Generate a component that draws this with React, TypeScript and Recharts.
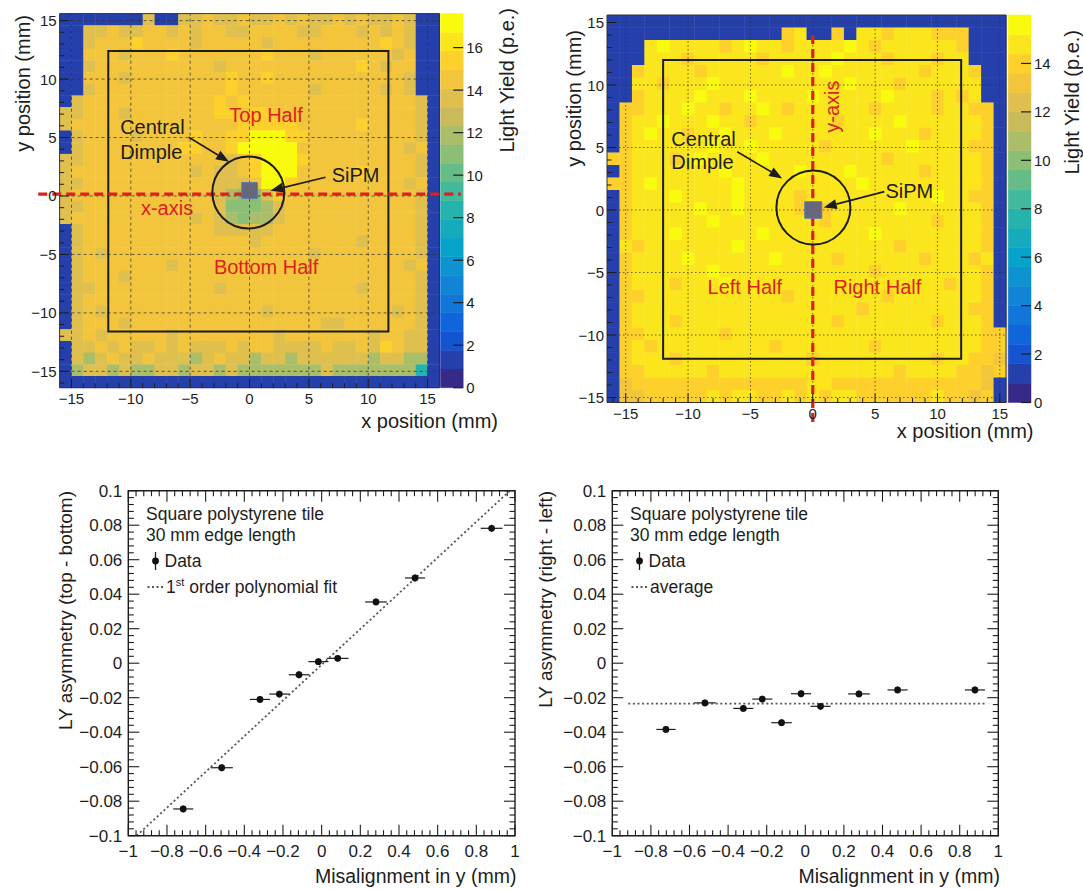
import React from 'react';
import {
  ScatterChart,
  Scatter,
  XAxis,
  YAxis,
  ReferenceArea,
  ReferenceLine,
  ReferenceDot,
  ErrorBar,
  Legend,
} from 'recharts';

const FONT = '"Liberation Sans", Arial, Helvetica, sans-serif';
const INK = '#1d1d1d';
const RED = '#dc1f1f';

// overlays sit above the heatmap cells
const Z_GRID = 610;
const Z_FRAME = 620;
const Z_MARK = 640;
const Z_SIPM = 650;
const Z_RING = 660;
const Z_ARROW = 670;
const Z_TEXT = 680;

// ROOT kBird palette, shown as 20 contour bands
const BIRD_R = [0.2082, 0.0592, 0.078, 0.0232, 0.1802, 0.5301, 0.8186, 0.9956, 0.9764];
const BIRD_G = [0.1664, 0.3599, 0.5041, 0.6419, 0.7178, 0.7492, 0.7328, 0.7862, 0.9832];
const BIRD_B = [0.5293, 0.8684, 0.8385, 0.7914, 0.6425, 0.4662, 0.3499, 0.1968, 0.0539];
const N_BANDS = 20;

function bird(t: number) {
  const s = Math.min(Math.max(t, 0), 1) * 8;
  const i = Math.min(Math.floor(s), 7);
  const f = s - i;
  const mix = (a: number[]) => Math.round(255 * (a[i] + (a[i + 1] - a[i]) * f));
  return `rgb(${mix(BIRD_R)},${mix(BIRD_G)},${mix(BIRD_B)})`;
}
const bandColor = (band: number) => bird(band / (N_BANDS - 1));
const zColor = (v: number, zMax: number) =>
  bandColor(Math.min(N_BANDS - 1, Math.floor(v / (zMax / N_BANDS))));

// ---- light yield maps, 1 mm cells, top row first ----
// left map: x from -16 mm, rows start at y = 15.6 mm
const LEFT_CODES: Record<string, number> = { '.': 1.2, c: 8.5, g: 10.8, h: 12.2, t: 13.6, o: 14.5, l: 15.5, Y: 17.2 };
const LEFT_ROWS = [
  '.... ...t ..tt otto ttot otto tott ot..',
  '..tt otto otot oott oooo ttoo otot ot..',
  '..to oolo ooot oooo otoo oooo oool ot..',
  '..oo otoo oloo oooo oloo otoo oooo to..',
  '..to oooo oooo otoo oooo oooo olot oo..',
  '..oo otoo oooo oolo oloo oooo oooo ot..',
  '..to oooo oooo oolo oooo otoo ooot ot..',
  '.too oooo oooo olol oooo oooo oooo oot.',
  'ttoo otoo oooo ollo lloo oooo oooo oot.',
  'tooo oooo oooo oool llll oooo oloo oot.',
  '.too ooto oool ooll YYYl looo oooo oot.',
  '.too oooo ooll oolY YYYY oooo oooo oto.',
  'ttoo oooo oooo ooto lYYY looo oooo oot.',
  'tooo oooo ooot otto lYYY oooo oloo oot.',
  'ttoo oooo oooo ottt oYYl oooo oooo oto.',
  'tooo oooo oooo othg gtlo oooo oooo oot.',
  'ttoo oooo oooo otgg ghto oooo oooo oot.',
  'tooo oooo ooot othg hhto oooo oooo oot.',
  '.too oooo oooo ottt ttoo oooo oooo oot.',
  '.too oooo oooo oooo tooo oooo otoo oot.',
  '.tot oooo oooo oooo oooo otoo oooo oot.',
  '.too oooo otoo oooo oooo oooo oooo oto.',
  '.too otoo oooo oooo oooo oooo oooo oot.',
  '.tto oooo oooo otoo oooo oooo otoo oot.',
  '.too oooo oooo oooo oooo oooo oooo oot.',
  '.tot oooo oooo oooo otoo oooo oooo tot.',
  '.too otoo oooo oooo oooo oott oooo oot.',
  'ttot oooo otoo oooo ooto oooo ooto ott.',
  '.tto tott otot ttot oott ttot totl ott.',
  '.tht otto ttth tott htth tttt ttht thh.',
  '.htt hthh ttht thth hhhh hhth hhhh hhc.',
  '.... .... .... .... .... .... .... ....',
];

// right map: x from -16.5 mm, rows start at y = 15.6 mm
const RIGHT_CODES: Record<string, number> = { '.': 1.2, h: 12.3, t: 13.0, o: 13.8, y: 14.6, Y: 15.5 };
const RIGHT_ROWS = [
  '.... .... .... .... .... .... .... ....',
  '.... .... .... ..oy ..o. yyoy yyoo o...',
  '...y Yyyy yoyY yyoy yyyY yoyy yyyy o...',
  '...y yyoy yyyy oyyy yyYy yyoy yyoy y...',
  '..oy yyyo yyyy yyYy yYyy yyyy yoyy yo..',
  '..yy oyyy Yyyy yyyy yyyY yyyo yyyy yy..',
  '..oy yyyY yyyY yyyy Yyyy yyYy yyoy oy..',
  '.ooy yyYy yoyy Yyoy yyyy yoyy yyoy yoo.',
  '.oyy Yyyy Yyyo yyyy yyoy yyyY yyyy yyo.',
  '.oyY yyoy yYyy yYyy yyyy yYyy yoyy yyo.',
  '.oyy yyyy YyyY yyyy yoyy yyyy Yyyy yoo.',
  'ooyy yoyY yyyy Yyyy yyyy yyoy yyyy yyo.',
  '.oyy yyyy yYyy yyyY yyyY yyyy yoyy yyo.',
  'ooyY yyyy yyYy yyyy yyyy Yyyy yyyy yyo.',
  '.oyy yYyy yyYy yyyo yyyy yyyy yyYy yoo.',
  '.oyy yyyY yyYy yyyo yoyy yyyY yyyy yyo.',
  '.oyy yyyy Yyyy yyyy yoyy yyyy yyoy yyo.',
  '.oyy yYyy yyyy Yyyy yyyy yYyy yyyy yyo.',
  '.yoy yyyy yyYy yyyy yyyy yyyo yyyy yyo.',
  '.oyy yyYy yyyy yYyy yyoy yyyy yoyy yoy.',
  '.oyy yyyy Yyyy yyyy yyyy yoyy yyyy yyo.',
  '.oyy yoyy yYyy yyyy yyyy yyyy yyyo yyo.',
  '.ooy yyyy yyyy yyoy yyyy yyoy yyyy yyo.',
  '.oyy yyyy yyyy yyyy yyyy oyyy yyyy yoo.',
  '.oyy yoyy yyyy yyyy yyoy yyyy yyoy yyo.',
  '.ooy yyyy yoyy yyyy yyyy yyyy yyyy yyoo',
  '.oyo yyyy yyyy yoyy yyyy yoyy yyyy yyoo',
  '.oyy yoyy yyyy yyyy oyyy yyyy yyoy yoot',
  '.ooy yyyy oyyy yyyy yyyy yyyo yyyy ooto',
  '.too oooo oooo oooo yyoo oooo oooo oot.',
  '.tto oooo yoyy ooyo yoyy oooo ooyo oto.',
];

// ---- asymmetry vs misalignment ----
const MISALIGN_TB = [-0.716, -0.517, -0.319, -0.219, -0.117, -0.017, 0.083, 0.281, 0.483, 0.879];
const ASYM_TB = [-0.0845, -0.0606, -0.021, -0.0179, -0.0067, 0.0009, 0.0028, 0.0355, 0.0494, 0.0782];
const MISALIGN_ERR_TB = [0.052, 0.058, 0.052, 0.052, 0.053, 0.052, 0.056, 0.056, 0.052, 0.056];
const ASYM_ERR_TB = [0.002, 0.002, 0.002, 0.002, 0.002, 0.002, 0.002, 0.002, 0.002, 0.002];
const FIT_TB_X = [-0.957, 0.974];
const FIT_TB_Y = [-0.1, 0.1];

const MISALIGN_RL = [-0.722, -0.52, -0.321, -0.223, -0.123, -0.022, 0.079, 0.278, 0.478, 0.879];
const ASYM_RL = [-0.0384, -0.023, -0.0262, -0.0208, -0.0345, -0.0177, -0.025, -0.0178, -0.0155, -0.0155];
const MISALIGN_ERR_RL = [0.05, 0.056, 0.052, 0.052, 0.053, 0.052, 0.052, 0.056, 0.052, 0.052];
const ASYM_ERR_RL = [0.002, 0.002, 0.002, 0.002, 0.002, 0.002, 0.002, 0.002, 0.002, 0.002];
const AVG_RL_X = [-0.917, 0.931];
const AVG_RL = -0.0234;

const MAP_MAJOR = [-15, -10, -5, 0, 5, 10, 15];
const ASYM_X_MAJOR = [-1, -0.8, -0.6, -0.4, -0.2, 0, 0.2, 0.4, 0.6, 0.8, 1];
const ASYM_Y_MAJOR = [-0.1, -0.08, -0.06, -0.04, -0.02, 0, 0.02, 0.04, 0.06, 0.08, 0.1];

const fmtSigned = (v: number) => (v < 0 ? `\u2212${Math.abs(v)}` : `${v}`);
const intRange = (a: number, b: number) => Array.from({ length: b - a + 1 }, (_, i) => a + i);
const minorRange = (step: number, n: number) =>
  Array.from({ length: 2 * n + 1 }, (_, i) => Math.round((i - n) * step * 10000) / 10000);

function toCells(rows: string[], codes: Record<string, number>, x0: number, y0: number) {
  const cells: { x: number; y: number; v: number }[] = [];
  rows.forEach((row, r) => {
    row
      .replace(/\s/g, '')
      .split('')
      .forEach((ch, c) => {
        cells.push({ x: x0 + c + 0.5, y: y0 - r - 0.5, v: codes[ch] ?? 0 });
      });
  });
  return cells;
}

// ---- shared drawing helpers ----
const arrowShape = (p: any) => {
  const { x1, y1, x2, y2 } = p;
  const a = Math.atan2(y2 - y1, x2 - x1);
  const L = 13;
  const W = 5;
  const bx = x2 - L * Math.cos(a);
  const by = y2 - L * Math.sin(a);
  const nx = -Math.sin(a) * W;
  const ny = Math.cos(a) * W;
  return (
    <g>
      <line x1={x1} y1={y1} x2={bx} y2={by} stroke={INK} strokeWidth={1.6} />
      <polygon points={`${x2},${y2} ${bx + nx},${by + ny} ${bx - nx},${by - ny}`} fill={INK} />
    </g>
  );
};

const textShape =
  (label: string, color: string, anchor: 'start' | 'middle' = 'middle', angle = 0) =>
  (p: any) => (
    <text
      x={p.cx}
      y={p.cy}
      dy="0.36em"
      textAnchor={anchor}
      fontSize={20}
      fill={color}
      transform={angle ? `rotate(${angle} ${p.cx} ${p.cy})` : undefined}
    >
      {label}
    </text>
  );

const heatXTick = (p: any) => {
  const v = p.payload.value;
  const major = v % 5 === 0;
  return (
    <g>
      <line x1={p.x} x2={p.x} y1={p.y} y2={p.y - (major ? 9 : 4.5)} stroke={INK} />
      {major && (
        <text x={p.x} y={p.y + 16} textAnchor="middle" fontSize={15} fill={INK}>
          {fmtSigned(v)}
        </text>
      )}
    </g>
  );
};

const heatYTick = (p: any) => {
  const v = p.payload.value;
  const major = v % 5 === 0;
  return (
    <g>
      <line x1={p.x} x2={p.x + (major ? 9 : 4.5)} y1={p.y} y2={p.y} stroke={INK} />
      {major && (
        <text x={p.x - 3} y={p.y} dy={5.5} textAnchor="end" fontSize={15} fill={INK}>
          {fmtSigned(v)}
        </text>
      )}
    </g>
  );
};

const zTick = (p: any) => (
  <g>
    <line x1={p.x - 10} x2={p.x} y1={p.y} y2={p.y} stroke={INK} strokeWidth={1.2} />
    <text x={p.x + 3} y={p.y} dy={5.5} textAnchor="start" fontSize={15} fill={INK}>
      {p.payload.value}
    </text>
  </g>
);

type Title = { x: number; y: number; text: string };
const hTitle = (t: Title, size: number) => () => (
  <text x={t.x} y={t.y} textAnchor="end" fontSize={size} fill={INK}>
    {t.text}
  </text>
);
const vTitle = (t: Title, size: number) => () => (
  <text x={t.x} y={t.y} textAnchor="end" fontSize={size} fill={INK} transform={`rotate(-90 ${t.x} ${t.y})`}>
    {t.text}
  </text>
);

type HeatProps = {
  rows: string[];
  codes: Record<string, number>;
  width: number;
  height: number;
  plotLeft: number;
  plotTop: number;
  plotRight: number;
  plotBottom: number;
  xDomain: [number, number];
  yDomain: [number, number];
  frameX: [number, number];
  barX: [number, number];
  zMax: number;
  zTicks: number[];
  xTicks: number[];
  yTicks: number[];
  gridDash: string;
  xTitle: Title;
  yTitle: Title;
  zTitle: Title;
  children?: React.ReactNode;
};

function HeatPanel(props: HeatProps) {
  const { width, height, plotLeft, plotTop, plotRight, plotBottom, xDomain, yDomain, frameX, barX, zMax } = props;
  const cw = (plotRight - plotLeft) / (xDomain[1] - xDomain[0]);
  const ch = (plotBottom - plotTop) / (yDomain[1] - yDomain[0]);
  const cells = toCells(props.rows, props.codes, frameX[0], yDomain[1]);
  const dz = zMax / N_BANDS;
  const cell = (p: any) => (
    <rect x={p.cx - cw / 2} y={p.cy - ch / 2} width={cw + 0.4} height={ch + 0.4} fill={zColor(p.payload.v, zMax)} />
  );
  return (
    <ScatterChart width={width} height={height} margin={{ top: plotTop, right: 0, bottom: 0, left: 0 }}>
      <XAxis
        type="number"
        dataKey="x"
        domain={xDomain}
        ticks={props.xTicks}
        interval={0}
        height={height - plotBottom}
        axisLine={false}
        tickLine={false}
        tickSize={0}
        tickMargin={0}
        tick={heatXTick}
        label={hTitle(props.xTitle, 20)}
      />
      <YAxis
        yAxisId="y"
        type="number"
        dataKey="y"
        domain={yDomain}
        ticks={props.yTicks}
        interval={0}
        width={plotLeft}
        axisLine={false}
        tickLine={false}
        tickSize={0}
        tickMargin={0}
        tick={heatYTick}
        label={vTitle(props.yTitle, 20)}
      />
      <YAxis
        yAxisId="z"
        orientation="right"
        type="number"
        domain={[0, zMax]}
        allowDataOverflow
        ticks={props.zTicks}
        interval={0}
        width={width - plotRight}
        axisLine={false}
        tickLine={false}
        tickSize={0}
        tickMargin={0}
        tick={zTick}
        label={vTitle(props.zTitle, 20)}
      />
      <Scatter yAxisId="y" data={cells} shape={cell} isAnimationActive={false} />
      {Array.from({ length: N_BANDS }, (_, i) => (
        <ReferenceArea
          key={`band-${i}`}
          yAxisId="z"
          x1={barX[0]}
          x2={barX[1]}
          y1={i * dz}
          y2={(i + 1) * dz}
          fill={bandColor(i)}
          fillOpacity={1}
          stroke={bandColor(i)}
          strokeWidth={0.5}
        />
      ))}
      {MAP_MAJOR.map((v) => (
        <ReferenceLine
          key={`gx${v}`}
          yAxisId="y"
          zIndex={Z_GRID}
          segment={[
            { x: v, y: yDomain[0] },
            { x: v, y: yDomain[1] },
          ]}
          stroke="#333"
          strokeOpacity={0.75}
          strokeDasharray={props.gridDash}
        />
      ))}
      {MAP_MAJOR.map((v) => (
        <ReferenceLine
          key={`gy${v}`}
          yAxisId="y"
          zIndex={Z_GRID}
          segment={[
            { x: frameX[0], y: v },
            { x: frameX[1], y: v },
          ]}
          stroke="#333"
          strokeOpacity={0.75}
          strokeDasharray={props.gridDash}
        />
      ))}
      <ReferenceArea
        yAxisId="y"
        zIndex={Z_FRAME}
        x1={frameX[0]}
        x2={frameX[1]}
        y1={yDomain[0]}
        y2={yDomain[1]}
        fill="none"
        stroke="#333"
      />
      {props.children}
    </ScatterChart>
  );
}

function TopBottomMap() {
  return (
    <HeatPanel
      rows={LEFT_ROWS}
      codes={LEFT_CODES}
      width={540}
      height={450}
      plotLeft={59.6}
      plotTop={13.6}
      plotRight={463.2}
      plotBottom={387.7}
      xDomain={[-16, 18]}
      yDomain={[-16.4, 15.6]}
      frameX={[-16, 16]}
      barX={[16.08, 18]}
      zMax={17.6}
      zTicks={[0, 2, 4, 6, 8, 10, 12, 14, 16]}
      xTicks={intRange(-15, 15)}
      yTicks={intRange(-16, 15)}
      gridDash="3 3"
      xTitle={{ x: 498, y: 428, text: 'x position (mm)' }}
      yTitle={{ x: 30, y: 15, text: 'y position (mm)' }}
      zTitle={{ x: 514, y: 8, text: 'Light Yield (p.e.)' }}
    >
      <ReferenceArea
        yAxisId="y"
        zIndex={Z_FRAME}
        x1={-11.9}
        x2={11.7}
        y1={-11.6}
        y2={12.4}
        fill="none"
        stroke={INK}
        strokeWidth={2}
      />
      <ReferenceLine
        yAxisId="y"
        zIndex={Z_MARK}
        segment={[
          { x: -17.8, y: 0.15 },
          { x: 17.8, y: 0.15 },
        ]}
        ifOverflow="visible"
        stroke={RED}
        strokeWidth={3.2}
        strokeDasharray="9 5"
      />
      <ReferenceArea
        yAxisId="y"
        zIndex={Z_SIPM}
        x1={-0.65}
        x2={0.66}
        y1={-0.2}
        y2={1.14}
        fill="#66677a"
        fillOpacity={1}
        stroke="#5a76b0"
      />
      <ReferenceDot yAxisId="y" zIndex={Z_RING} x={-0.1} y={0.3} r={36} fill="none" stroke={INK} strokeWidth={2} />
      <ReferenceLine
        yAxisId="y"
        zIndex={Z_ARROW}
        segment={[
          { x: -5.12, y: 5.02 },
          { x: -1.73, y: 2.93 },
        ]}
        shape={arrowShape}
      />
      <ReferenceLine
        yAxisId="y"
        zIndex={Z_ARROW}
        segment={[
          { x: 6.4, y: 1.6 },
          { x: 1.76, y: 0.45 },
        ]}
        shape={arrowShape}
      />
      <ReferenceDot yAxisId="y" zIndex={Z_TEXT} x={1.39} y={6.93} r={0} shape={textShape('Top Half', RED)} />
      <ReferenceDot yAxisId="y" zIndex={Z_TEXT} x={1.4} y={-6.05} r={0} shape={textShape('Bottom Half', RED)} />
      <ReferenceDot yAxisId="y" zIndex={Z_TEXT} x={-6.95} y={-1.05} r={0} shape={textShape('x-axis', RED)} />
      <ReferenceDot yAxisId="y" zIndex={Z_TEXT} x={-10.9} y={5.93} r={0} shape={textShape('Central', INK, 'start')} />
      <ReferenceDot yAxisId="y" zIndex={Z_TEXT} x={-10.9} y={3.79} r={0} shape={textShape('Dimple', INK, 'start')} />
      <ReferenceDot yAxisId="y" zIndex={Z_TEXT} x={8.94} y={1.8} r={0} shape={textShape('SiPM', INK)} />
    </HeatPanel>
  );
}

function LeftRightMap() {
  return (
    <HeatPanel
      rows={RIGHT_ROWS}
      codes={RIGHT_CODES}
      width={543}
      height={450}
      plotLeft={67}
      plotTop={15}
      plotRight={491}
      plotBottom={402.5}
      xDomain={[-16.5, 17.5]}
      yDomain={[-15.4, 15.6]}
      frameX={[-16.5, 15.5]}
      barX={[15.67, 17.5]}
      zMax={16}
      zTicks={[0, 2, 4, 6, 8, 10, 12, 14]}
      xTicks={intRange(-16, 15)}
      yTicks={intRange(-15, 15)}
      gridDash="1.5 2.5"
      xTitle={{ x: 493.5, y: 438, text: 'x position (mm)' }}
      yTitle={{ x: 41, y: 30, text: 'y position (mm)' }}
      zTitle={{ x: 539, y: 30, text: 'Light Yield (p.e.)' }}
    >
      <ReferenceArea
        yAxisId="y"
        zIndex={Z_FRAME}
        x1={-12}
        x2={11.9}
        y1={-11.9}
        y2={12}
        fill="none"
        stroke={INK}
        strokeWidth={2}
      />
      <ReferenceLine
        yAxisId="y"
        zIndex={Z_MARK}
        segment={[
          { x: 0, y: 14.0 },
          { x: 0, y: -17.3 },
        ]}
        ifOverflow="visible"
        stroke={RED}
        strokeWidth={3.2}
        strokeDasharray="9 5"
      />
      <ReferenceArea
        yAxisId="y"
        zIndex={Z_SIPM}
        x1={-0.64}
        x2={0.72}
        y1={-0.66}
        y2={0.66}
        fill="#66677a"
        fillOpacity={1}
        stroke="#5a76b0"
      />
      <ReferenceDot yAxisId="y" zIndex={Z_RING} x={0.05} y={0.2} r={37} fill="none" stroke={INK} strokeWidth={2} />
      <ReferenceLine
        yAxisId="y"
        zIndex={Z_ARROW}
        segment={[
          { x: -6.06, y: 4.66 },
          { x: -2.45, y: 2.53 },
        ]}
        shape={arrowShape}
      />
      <ReferenceLine
        yAxisId="y"
        zIndex={Z_ARROW}
        segment={[
          { x: 5.74, y: 1.47 },
          { x: 0.88, y: 0.21 },
        ]}
        shape={arrowShape}
      />
      <ReferenceDot yAxisId="y" zIndex={Z_TEXT} x={1.49} y={8.27} r={0} shape={textShape('y-axis', RED, 'middle', -90)} />
      <ReferenceDot yAxisId="y" zIndex={Z_TEXT} x={-5.45} y={-6.13} r={0} shape={textShape('Left Half', RED)} />
      <ReferenceDot yAxisId="y" zIndex={Z_TEXT} x={5.18} y={-6.13} r={0} shape={textShape('Right Half', RED)} />
      <ReferenceDot yAxisId="y" zIndex={Z_TEXT} x={-11.34} y={5.73} r={0} shape={textShape('Central', INK, 'start')} />
      <ReferenceDot yAxisId="y" zIndex={Z_TEXT} x={-11.34} y={3.87} r={0} shape={textShape('Dimple', INK, 'start')} />
      <ReferenceDot yAxisId="y" zIndex={Z_TEXT} x={7.74} y={1.55} r={0} shape={textShape('SiPM', INK)} />
    </HeatPanel>
  );
}

// ---- asymmetry panels ----
const X_MINOR = minorRange(0.04, 25);
const Y_MINOR = minorRange(0.004, 25);

const findMajor = (list: number[], v: number) => list.find((m) => Math.abs(m - v) < 1e-6);

const asymXTick = (top: number) => (p: any) => {
  const m = findMajor(ASYM_X_MAJOR, p.payload.value);
  const len = m !== undefined ? 11 : 5.5;
  return (
    <g>
      <line x1={p.x} x2={p.x} y1={p.y} y2={p.y - len} stroke={INK} strokeWidth={1.1} />
      <line x1={p.x} x2={p.x} y1={top} y2={top + len} stroke={INK} strokeWidth={1.1} />
      {m !== undefined && (
        <text x={p.x} y={p.y + 21} textAnchor="middle" fontSize={17} fill={INK}>
          {fmtSigned(m)}
        </text>
      )}
    </g>
  );
};

const asymYTick = (right: number) => (p: any) => {
  const m = findMajor(ASYM_Y_MAJOR, p.payload.value);
  const len = m !== undefined ? 11 : 5.5;
  return (
    <g>
      <line x1={p.x} x2={p.x + len} y1={p.y} y2={p.y} stroke={INK} strokeWidth={1.1} />
      <line x1={right} x2={right - len} y1={p.y} y2={p.y} stroke={INK} strokeWidth={1.1} />
      {m !== undefined && (
        <text x={p.x - 6} y={p.y} dy={6} textAnchor="end" fontSize={17} fill={INK}>
          {fmtSigned(m)}
        </text>
      )}
    </g>
  );
};

const dataDot = (p: any) => <circle cx={p.cx} cy={p.cy} r={3.4} fill="#111" />;
const noDot = () => <g />;

function TileLegend({ lineLabel }: { lineLabel: React.ReactNode }) {
  return (
    <svg width={330} height={112} style={{ display: 'block', overflow: 'visible' }}>
      <text x={18} y={28.5} fontSize={17.5} fill={INK}>
        Square polystyrene tile
      </text>
      <text x={18} y={49.5} fontSize={17.5} fill={INK}>
        30 mm edge length
      </text>
      <line x1={27.5} x2={27.5} y1={61} y2={79} stroke={INK} strokeWidth={1.3} />
      <circle cx={27.5} cy={70} r={3.4} fill="#111" />
      <text x={36.5} y={76} fontSize={17.5} fill={INK}>
        Data
      </text>
      <line x1={19.5} x2={36} y1={96} y2={96} stroke="#555" strokeWidth={1.8} strokeDasharray="2 2.5" />
      <text x={38} y={102} fontSize={17.5} fill={INK}>
        {lineLabel}
      </text>
    </svg>
  );
}

type AsymProps = {
  width: number;
  plotLeft: number;
  plotRight: number;
  points: { x: number; y: number; xErr: number; yErr: number }[];
  line: { x: number; y: number }[];
  lineName: string;
  lineLabel: React.ReactNode;
  yTitle: Title;
  xTitle: Title;
};

const ASYM_H = 429;
const ASYM_TOP = 30.7;
const ASYM_BOTTOM = 375.7;

function AsymPanel(props: AsymProps) {
  const { width, plotLeft, plotRight } = props;
  return (
    <ScatterChart width={width} height={ASYM_H} margin={{ top: ASYM_TOP, right: width - plotRight, bottom: 0, left: 0 }}>
      <XAxis
        type="number"
        dataKey="x"
        domain={[-1, 1]}
        ticks={X_MINOR}
        interval={0}
        height={ASYM_H - ASYM_BOTTOM}
        axisLine={false}
        tickLine={false}
        tickSize={0}
        tickMargin={0}
        tick={asymXTick(ASYM_TOP)}
        label={hTitle(props.xTitle, 19.5)}
      />
      <YAxis
        type="number"
        dataKey="y"
        domain={[-0.1, 0.1]}
        ticks={Y_MINOR}
        interval={0}
        width={plotLeft}
        axisLine={false}
        tickLine={false}
        tickSize={0}
        tickMargin={0}
        tick={asymYTick(plotRight)}
        label={vTitle(props.yTitle, 19)}
      />
      <ReferenceArea x1={-1} x2={1} y1={-0.1} y2={0.1} fill="none" stroke={INK} strokeWidth={1.4} />
      <Scatter
        name={props.lineName}
        data={props.line}
        line={{ stroke: '#555', strokeWidth: 1.8, strokeDasharray: '2 2.6' }}
        shape={noDot}
        isAnimationActive={false}
      />
      <Scatter name="Data" data={props.points} shape={dataDot} isAnimationActive={false}>
        <ErrorBar dataKey="xErr" direction="x" width={0} stroke={INK} strokeWidth={1.2} />
        <ErrorBar dataKey="yErr" direction="y" width={0} stroke={INK} strokeWidth={1.2} />
      </Scatter>
      <Legend
        layout="horizontal"
        verticalAlign="middle"
        align="center"
        wrapperStyle={{ left: plotLeft, top: ASYM_TOP, width: 330, height: 112 }}
        content={() => <TileLegend lineLabel={props.lineLabel} />}
      />
    </ScatterChart>
  );
}

const tbPoints = MISALIGN_TB.map((x, i) => ({ x, y: ASYM_TB[i], xErr: MISALIGN_ERR_TB[i], yErr: ASYM_ERR_TB[i] }));
const tbFit = FIT_TB_X.map((x, i) => ({ x, y: FIT_TB_Y[i] }));
const rlPoints = MISALIGN_RL.map((x, i) => ({ x, y: ASYM_RL[i], xErr: MISALIGN_ERR_RL[i], yErr: ASYM_ERR_RL[i] }));
const rlAverage = AVG_RL_X.map((x) => ({ x, y: AVG_RL }));

export default function App() {
  return (
    <div
      style={{
        position: 'absolute',
        left: 0,
        top: 0,
        width: 1083,
        height: 889,
        background: '#fff',
        fontFamily: FONT,
        overflow: 'hidden',
      }}
    >
      <div style={{ position: 'absolute', left: 0, top: 0 }}>
        <TopBottomMap />
      </div>
      <div style={{ position: 'absolute', left: 540, top: 0 }}>
        <LeftRightMap />
      </div>
      <div style={{ position: 'absolute', left: 0, top: 460 }}>
        <AsymPanel
          width={520}
          plotLeft={128.3}
          plotRight={515}
          points={tbPoints}
          line={tbFit}
          lineName="1st order polynomial fit"
          lineLabel={
            <>
              1
              <tspan dy={-7} fontSize={11}>
                st
              </tspan>
              <tspan dy={7}> order polynomial fit</tspan>
            </>
          }
          yTitle={{ x: 72, y: 31, text: 'LY asymmetry (top - bottom)' }}
          xTitle={{ x: 516.5, y: 423, text: 'Misalignment in y (mm)' }}
        />
      </div>
      <div style={{ position: 'absolute', left: 520, top: 460 }}>
        <AsymPanel
          width={563}
          plotLeft={92.3}
          plotRight={478.3}
          points={rlPoints}
          line={rlAverage}
          lineName="average"
          lineLabel="average"
          yTitle={{ x: 31.5, y: 31, text: 'LY asymmetry (right - left)' }}
          xTitle={{ x: 480, y: 423, text: 'Misalignment in y (mm)' }}
        />
      </div>
    </div>
  );
}
